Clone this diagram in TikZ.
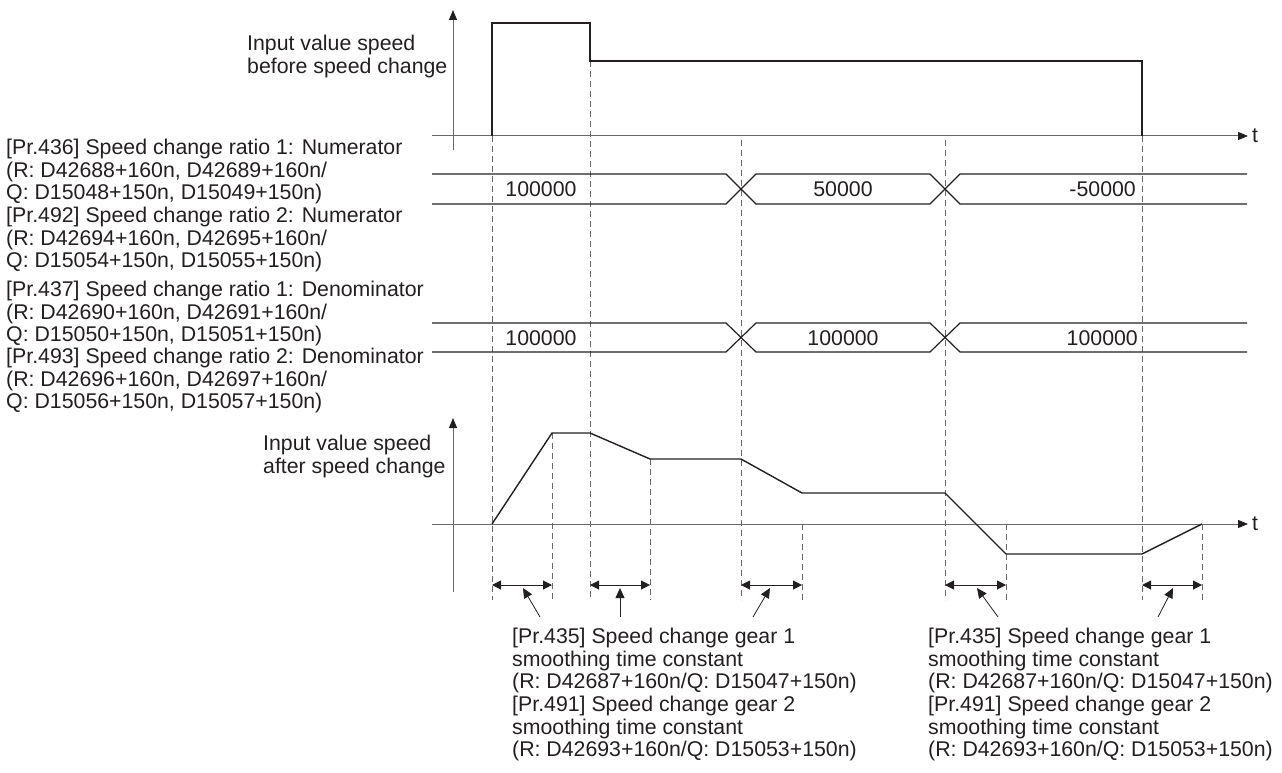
\documentclass[tikz,border=0pt]{standalone}
\usepackage{fontspec}
\setmainfont{Liberation Sans}
\usetikzlibrary{arrows.meta,positioning}
\definecolor{chartInk}{RGB}{35,31,32}
\definecolor{chartGrey}{RGB}{105,105,105}

\begin{document}
\begin{tikzpicture}[
  x=1pt, y=-1pt,
  font=\fontsize{21.3}{22.6}\selectfont,
  note/.style={text=chartInk, inner sep=0pt, align=left, anchor=north west},
  busval/.style={text=chartInk, inner sep=0pt},
  axis/.style={draw=chartGrey, line width=1pt, -{Triangle[length=10pt,width=8pt,color=chartInk]}},
  wave/.style={draw=chartInk, line width=1.4pt},
  guide/.style={draw=chartGrey, line width=1pt, dash pattern=on 6pt off 4pt},
  span/.style={draw=chartInk, line width=1pt,
    {Triangle[length=9pt,width=9pt]}-{Triangle[length=9pt,width=9pt]}},
  pointer/.style={draw=chartInk, line width=0.8pt, -{Triangle[length=10pt,width=9pt]}}
]
  \useasboundingbox (0,0) rectangle (1282,773);

  % guides
  \foreach \x/\ytop in {492/136,590/61,741/140,945/140,1142/136,
                        552/433,650/459,802/524,1006/524,1202/524}
    \draw[guide] (\x,\ytop) -- (\x,600);

  % speed before change
  \draw[axis] (453,150) -- (453,10);
  \draw[axis] (432,136) -- (1248,136) coordinate (tTop);
  \node[busval, right=4pt of tTop] (tTopLbl) {t};
  \draw[wave] (492,136) -- (492,23) -- (590,23) -- (590,61) -- (1142,61) -- (1142,136);
  \node[note] (inBefore) at (247,35) {Input value speed\\before speed change};

  % numerator bus
  \draw[wave,line width=1.2pt] (432,174) -- (726,174) -- (756,204) -- (930,204) -- (960,174) -- (1247,174);
  \draw[wave,line width=1.2pt] (432,204) -- (726,204) -- (756,174) -- (930,174) -- (960,204) -- (1247,204);
  \node[busval] (num1) at (541,189) {100000};
  \node[busval] (num2) at (843,189) {50000};
  \node[busval, anchor=east] (num3) at (1136,189) {-50000};

  % denominator bus
  \draw[wave,line width=1.2pt] (432,323) -- (726,323) -- (756,352) -- (930,352) -- (960,323) -- (1247,323);
  \draw[wave,line width=1.2pt] (432,352) -- (726,352) -- (756,323) -- (930,323) -- (960,352) -- (1247,352);
  \node[busval] (den1) at (541,338) {100000};
  \node[busval] (den2) at (843,338) {100000};
  \node[busval, anchor=east] (den3) at (1138,338) {100000};

  \node[note] (pr436) at (6,139) {[Pr.436] Speed change ratio 1: Numerator\\(R: D42688+160n, D42689+160n/\\Q: D15048+150n, D15049+150n)};
  \node[note] (pr492) at (6,207) {[Pr.492] Speed change ratio 2: Numerator\\(R: D42694+160n, D42695+160n/\\Q: D15054+150n, D15055+150n)};
  \node[note] (pr437) at (6,281) {[Pr.437] Speed change ratio 1: Denominator\\(R: D42690+160n, D42691+160n/\\Q: D15050+150n, D15051+150n)};
  \node[note] (pr493) at (6,348) {[Pr.493] Speed change ratio 2: Denominator\\(R: D42696+160n, D42697+160n/\\Q: D15056+150n, D15057+150n)};

  % speed after change
  \draw[axis] (453,592) -- (453,418);
  \draw[axis] (432,524) -- (1248,524) coordinate (tLow);
  \node[busval, right=4pt of tLow] (tLowLbl) {t};
  \draw[wave] (492,524) -- (552,433) -- (590,433) -- (650,459) -- (741,459) -- (802,493)
    -- (945,493) -- (1006,554) -- (1142,554) -- (1202,524);
  \node[note] (inAfter) at (263,435) {Input value speed\\after speed change};

  % smoothing time spans
  \foreach \a/\b/\n in {492/552/s1,590/650/s2,741/802/s3,945/1006/s4,1142/1202/s5}
    \draw[span] (\a,585) -- (\b,585) coordinate[pos=0.5] (\n);

  \coordinate (p1) at (540,617);
  \coordinate (p2) at (620,617);
  \coordinate (p3) at (753,617);
  \coordinate (p4) at (998,617);
  \coordinate (p5) at (1158,617);
  \draw[pointer] (p1) -- (523,588);
  \draw[pointer] (p2) -- (620,588);
  \draw[pointer] (p3) -- (770,588);
  \draw[pointer] (p4) -- (977,588);
  \draw[pointer] (p5) -- (1173,588);

  \node[note] (gearA) at (512,628) {[Pr.435] Speed change gear 1\\smoothing time constant\\(R: D42687+160n/Q: D15047+150n)\\{}[Pr.491] Speed change gear 2\\smoothing time constant\\(R: D42693+160n/Q: D15053+150n)};
  \node[note] (gearB) at (928,628) {[Pr.435] Speed change gear 1\\smoothing time constant\\(R: D42687+160n/Q: D15047+150n)\\{}[Pr.491] Speed change gear 2\\smoothing time constant\\(R: D42693+160n/Q: D15053+150n)};
\end{tikzpicture}
\end{document}
